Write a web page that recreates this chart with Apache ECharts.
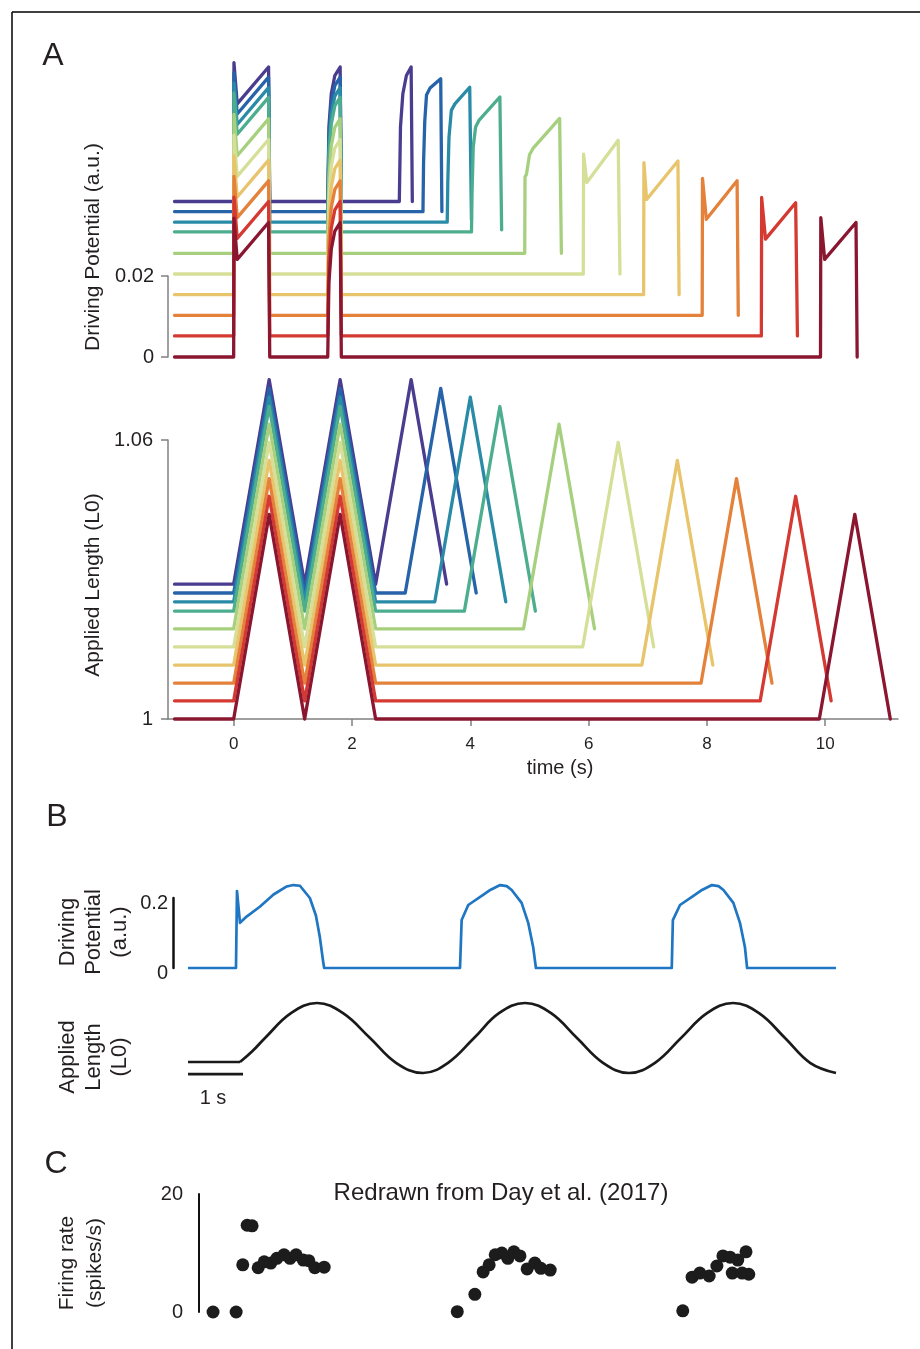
<!DOCTYPE html>
<html>
<head>
<meta charset="utf-8">
<script src="https://cdn.jsdelivr.net/npm/echarts@6/dist/echarts.min.js"></script>
<style>
html,body{margin:0;padding:0;background:#fff;}
#chart{width:920px;height:1349px;}
</style>
</head>
<body>
<div id="chart"></div>
<script>
// ---------- Panel A data ----------
const delays = [0, 0.5, 1, 1.5, 2.5, 3.5, 4.5, 5.5, 6.5, 7.5];
const traceColors = ['#4a3d8f','#2663a9','#2a8ba7','#4dad8f','#a7d07e','#d6df97','#e8c56c','#e4813a','#d43a32','#8a1630'];
const dpOffsets = [0.0384, 0.0359, 0.0333, 0.0309, 0.0256, 0.0205, 0.0154, 0.0103, 0.0052, 0];
const lenOffsets = [0.0290, 0.0271, 0.0252, 0.0232, 0.0194, 0.0155, 0.0116, 0.0077, 0.0039, 0];
// driving potential: shared first two stretches (relative to trace baseline)
const dpCommonT = [-1, 0, 0.005, 0.06, 0.59, 0.61, 1.59, 1.61, 1.65, 1.71, 1.80, 1.82];
const dpCommonV = [0, 0, 0.0343, 0.0241, 0.0332, 0, 0, 0.0184, 0.0266, 0.0311, 0.0332, 0];
// driving potential: third stretch, one list of [t, v] per trace
const dpThird = [
  [[2.80,0],[2.82,0.0184],[2.86,0.0266],[2.92,0.0311],[3.00,0.0332],[3.02,0]],
  [[3.20,0],[3.21,0.012],[3.23,0.0222],[3.26,0.0288],[3.32,0.0305],[3.50,0.0328],[3.52,0]],
  [[3.61,0],[3.62,0.010],[3.64,0.021],[3.68,0.0276],[3.74,0.0292],[3.99,0.0333],[4.02,0.0005]],
  [[4.02,0],[4.03,0.010],[4.05,0.021],[4.09,0.0259],[4.15,0.0276],[4.50,0.0333],[4.53,0.0005]],
  [[4.92,0],[4.925,0.0189],[4.95,0.0195],[5.00,0.0243],[5.06,0.0259],[5.51,0.0333],[5.54,0]],
  [[5.91,0],[5.915,0.0296],[5.97,0.0226],[6.50,0.0330],[6.53,0]],
  [[6.93,0],[6.935,0.0326],[6.98,0.0235],[7.51,0.0330],[7.53,0]],
  [[7.92,0],[7.925,0.0338],[7.99,0.0237],[8.51,0.0332],[8.53,0]],
  [[8.92,0],[8.925,0.0342],[8.99,0.0239],[9.50,0.0329],[9.53,0]],
  [[9.92,0],[9.925,0.0344],[9.99,0.0241],[10.52,0.0332],[10.54,0]]
];
// applied length: triangular stretches
const lenCommonT = [-1, 0, 0.6, 1.2, 1.8, 2.4];
const lenCommonV = [0, 0, 0.044, 0, 0.044, 0];
const lenThirdT = [2.4, 3.0, 3.6];   // shifted by each trace's delay
const lenThirdV = [0, 0.044, 0];
const aTicks = [0, 2, 4, 6, 8, 10];

// ---------- Panel B data ----------
const bDpT = [-0.945,-0.073,-0.055,0,0.12,0.36,0.61,0.85,0.97,1.09,1.27,1.38,1.45,1.51,1.53,
  4.0,4.03,4.15,4.42,4.55,4.73,4.85,4.94,5.12,5.24,5.33,5.38,
  7.85,7.87,8.0,8.27,8.40,8.58,8.70,8.79,8.97,9.09,9.18,9.22,10.836];
const bDpV = [0,0,0.22,0.129,0.147,0.175,0.21,0.233,0.237,0.235,0.2,0.15,0.09,0.02,0,
  0,0.137,0.18,0.209,0.223,0.237,0.234,0.223,0.186,0.129,0.06,0,
  0,0.137,0.18,0.209,0.223,0.237,0.234,0.223,0.186,0.129,0.06,0,0];
const bFlatT = [-0.945, 0];
const bFlatV = [0.157, 0.157];
const bLenT = [0,0.218,0.455,0.927,1.4,1.873,2.364,2.836,3.327,3.782,4.255,4.709,5.182,5.655,6.127,6.6,7.073,7.545,8.018,8.491,8.964,9.436,9.909,10.364,10.836];
const bLenV = [0.157,0.306,0.5,0.854,1,0.854,0.5,0.146,0,0.146,0.5,0.854,1,0.854,0.5,0.146,0,0.146,0.5,0.854,1,0.854,0.5,0.146,0];
const scaleBarT = [-0.945, 0.055];

// ---------- Panel C data ----------
const cT = [-0.49,-0.07,0.05,0.13,0.22,0.33,0.44,0.56,0.67,0.80,0.91,1.02,1.15,1.25,1.36,1.53,
  3.95,4.27,4.42,4.53,4.64,4.76,4.87,4.98,5.09,5.22,5.36,5.47,5.64,
  8.05,8.22,8.36,8.53,8.67,8.78,8.91,8.95,9.05,9.13,9.20,9.25];
const cRate = [0,0,8.0,14.7,14.6,7.5,8.5,8.3,9.1,9.7,9.1,9.7,8.8,8.7,7.5,7.6,
  0.05,3.0,6.8,8.0,9.7,10.0,9.1,10.2,9.5,7.3,8.3,7.4,7.1,
  0.2,5.9,6.6,6.1,7.8,9.5,9.3,6.6,8.8,6.6,10.2,6.4];

// ---------- build ----------
const FONT = '"Liberation Sans", Arial, Helvetica, sans-serif';
const TXT = '#231f20';
const GRAY = '#808080';
const series = [];

delays.forEach((d, i) => {
  const pts = dpCommonT.map((t, k) => [t, dpOffsets[i] + dpCommonV[k]]);
  dpThird[i].forEach(p => pts.push([p[0], dpOffsets[i] + p[1]]));
  series.push({type:'line', xAxisIndex:0, yAxisIndex:0, data:pts, symbol:'none', clip:false, silent:true,
    lineStyle:{color:traceColors[i], width:3.3, join:'round', cap:'round'}, z:2+i});
});
delays.forEach((d, i) => {
  const pts = lenCommonT.map((t, k) => [t, 1 + lenOffsets[i] + lenCommonV[k]]);
  lenThirdT.forEach((t, k) => pts.push([t + d, 1 + lenOffsets[i] + lenThirdV[k]]));
  series.push({type:'line', xAxisIndex:1, yAxisIndex:1, data:pts, symbol:'none', clip:false, silent:true,
    lineStyle:{color:traceColors[i], width:3.3, join:'round', cap:'round'}, z:2+i});
});
series.push({type:'line', xAxisIndex:2, yAxisIndex:2, data:bDpT.map((t,k)=>[t,bDpV[k]]), symbol:'none', clip:false,
  lineStyle:{color:'#1f76c2', width:2.7, join:'round'}});
series.push({type:'line', xAxisIndex:3, yAxisIndex:3, data:bFlatT.map((t,k)=>[t,bFlatV[k]]), symbol:'none', clip:false,
  lineStyle:{color:'#1a1a1a', width:2.7}});
series.push({type:'line', xAxisIndex:3, yAxisIndex:3, data:bLenT.map((t,k)=>[t,bLenV[k]]), symbol:'none', clip:false, smooth:0.4,
  lineStyle:{color:'#1a1a1a', width:2.7}});
series.push({type:'line', xAxisIndex:3, yAxisIndex:3, data:scaleBarT.map(t=>[t,-0.016]), symbol:'none', clip:false,
  lineStyle:{color:'#1a1a1a', width:2.7}});
series.push({type:'scatter', xAxisIndex:4, yAxisIndex:4, data:cT.map((t,k)=>[t,cRate[k]]), symbolSize:13, clip:false,
  itemStyle:{color:'#1c1c1c', opacity:1}});

const hiddenX = (gi, min, max) => ({gridIndex:gi, type:'value', min, max, show:false});
const option = {
  animation:false,
  backgroundColor:'#ffffff',
  textStyle:{fontFamily:FONT},
  grid:[
    {left:168, top:276, width:730, height:81},
    {left:168, top:440, width:730, height:279},
    {left:188, top:898, width:648, height:70},
    {left:188, top:1003, width:648, height:70},
    {left:199, top:1194, width:637, height:118}
  ],
  xAxis:[
    hiddenX(0, -1.11, 11.23),
    {gridIndex:1, type:'value', min:-1.11, max:11.23,
      axisLine:{show:true, onZero:false, lineStyle:{color:GRAY, width:1.5}},
      axisTick:{show:true, length:7, customValues:aTicks, lineStyle:{color:GRAY, width:1.5}},
      axisLabel:{customValues:aTicks, fontSize:17, color:TXT, margin:17, fontFamily:FONT},
      splitLine:{show:false}},
    hiddenX(2, -0.9455, 10.836),
    hiddenX(3, -0.9455, 10.836),
    hiddenX(4, -0.7455, 10.836)
  ],
  yAxis:[
    {gridIndex:0, type:'value', min:0, max:0.02, interval:0.02,
      axisLine:{show:true, onZero:false, lineStyle:{color:GRAY, width:1.5}},
      axisTick:{show:true, length:7, lineStyle:{color:GRAY, width:1.5}},
      axisLabel:{fontSize:20, color:TXT, margin:14, fontFamily:FONT},
      splitLine:{show:false}},
    {gridIndex:1, type:'value', min:1, max:1.06,
      axisLine:{show:true, onZero:false, lineStyle:{color:GRAY, width:1.5}},
      axisTick:{show:true, length:7, customValues:[1,1.06], lineStyle:{color:GRAY, width:1.5}},
      axisLabel:{customValues:[1,1.06], fontSize:20, color:TXT, margin:15, fontFamily:FONT},
      splitLine:{show:false}},
    {gridIndex:2, type:'value', min:0, max:0.2, interval:0.2, offset:15,
      axisLine:{show:true, onZero:false, lineStyle:{color:'#111', width:2.5}},
      axisTick:{show:false},
      axisLabel:{fontSize:20, color:TXT, margin:5, fontFamily:FONT, verticalAlign:'top', lineHeight:10},
      splitLine:{show:false}},
    {gridIndex:3, type:'value', min:0, max:1, show:false},
    {gridIndex:4, type:'value', min:0, max:20, interval:20,
      axisLine:{show:true, onZero:false, lineStyle:{color:'#111', width:2}},
      axisTick:{show:false},
      axisLabel:{fontSize:20, color:TXT, margin:16, fontFamily:FONT},
      splitLine:{show:false}}
  ],
  series:series,
  graphic:{elements:[
    {type:'line', shape:{x1:12, y1:12, x2:920, y2:12}, style:{stroke:'#000', lineWidth:1.5}},
    {type:'line', shape:{x1:12, y1:12, x2:12, y2:1349}, style:{stroke:'#000', lineWidth:1.5}},
    {type:'text', x:53, y:56, style:{text:'A', fontSize:32, fontFamily:FONT, fill:TXT, textAlign:'center', textVerticalAlign:'middle'}},
    {type:'text', x:57, y:817, style:{text:'B', fontSize:32, fontFamily:FONT, fill:TXT, textAlign:'center', textVerticalAlign:'middle'}},
    {type:'text', x:56, y:1164, style:{text:'C', fontSize:32, fontFamily:FONT, fill:TXT, textAlign:'center', textVerticalAlign:'middle'}},
    {type:'text', x:93, y:247, rotation:Math.PI/2, style:{text:'Driving Potential (a.u.)', fontSize:21, fontFamily:FONT, fill:TXT, textAlign:'center', textVerticalAlign:'middle'}},
    {type:'text', x:93, y:585, rotation:Math.PI/2, style:{text:'Applied Length (L0)', fontSize:21, fontFamily:FONT, fill:TXT, textAlign:'center', textVerticalAlign:'middle'}},
    {type:'text', x:560, y:768, style:{text:'time (s)', fontSize:20, fontFamily:FONT, fill:TXT, textAlign:'center', textVerticalAlign:'middle'}},
    {type:'text', x:94, y:932, rotation:Math.PI/2, style:{text:'Driving\nPotential\n(a.u.)', fontSize:22, lineHeight:26, fontFamily:FONT, fill:TXT, textAlign:'center', textVerticalAlign:'middle'}},
    {type:'text', x:94, y:1057, rotation:Math.PI/2, style:{text:'Applied\nLength\n(L0)', fontSize:22, lineHeight:26, fontFamily:FONT, fill:TXT, textAlign:'center', textVerticalAlign:'middle'}},
    {type:'text', x:213, y:1098, style:{text:'1 s', fontSize:20, fontFamily:FONT, fill:TXT, textAlign:'center', textVerticalAlign:'middle'}},
    {type:'text', x:81, y:1263, rotation:Math.PI/2, style:{text:'Firing rate\n(spikes/s)', fontSize:21, lineHeight:28, fontFamily:FONT, fill:TXT, textAlign:'center', textVerticalAlign:'middle'}},
    {type:'text', x:501, y:1193, style:{text:'Redrawn from Day et al. (2017)', fontSize:24, fontFamily:FONT, fill:TXT, textAlign:'center', textVerticalAlign:'middle'}}
  ]}
};
const chart = echarts.init(document.getElementById('chart'), null, {renderer:'canvas'});
chart.setOption(option);
</script>
</body>
</html>
